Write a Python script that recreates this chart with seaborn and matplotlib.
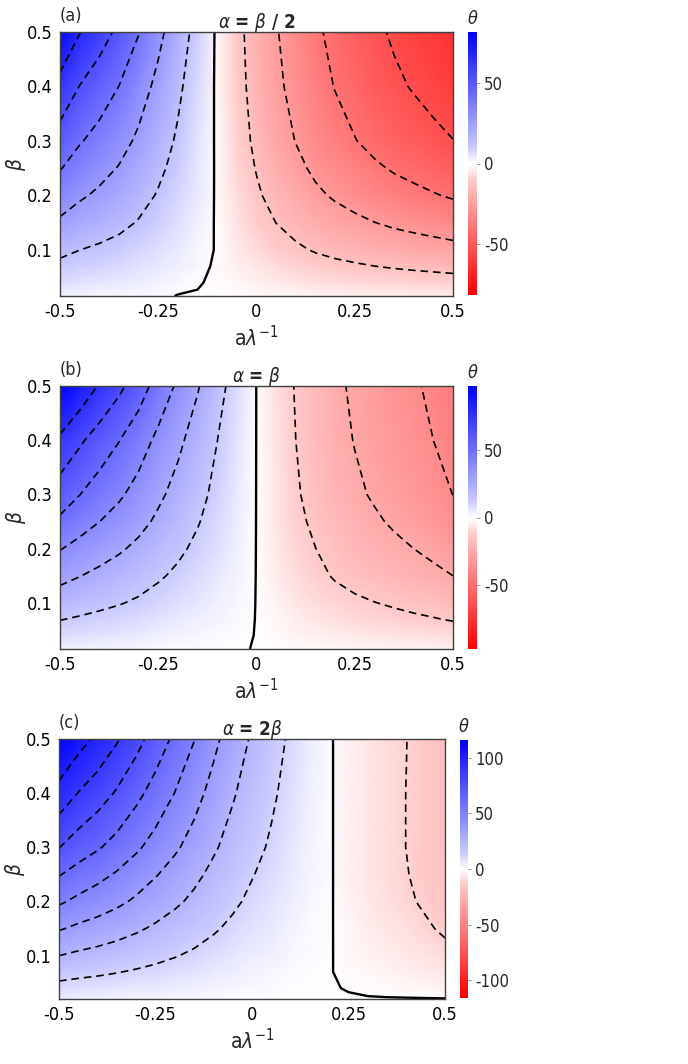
import matplotlib
matplotlib.use("Agg")
import matplotlib.pyplot as plt
import numpy as np
import seaborn as sns

# grid of the maps: a*lambda^-1 (columns) and beta (rows, bottom -> top)
A_VALUES = [-0.5, -0.45, -0.4, -0.35, -0.3, -0.25, -0.2, -0.15, -0.1, -0.05, 0.0,
            0.05, 0.1, 0.15, 0.2, 0.25, 0.3, 0.35, 0.4, 0.45, 0.5]
BETA_VALUES = [0.015, 0.04, 0.07, 0.1, 0.15, 0.2, 0.25, 0.3, 0.4, 0.5]

# theta: alpha = beta / 2
THETA_A = [
    [2.4, 2.0, 1.8, 1.5, 1.2, 0.9, -0.2, -0.4, -0.4, -0.6, -1.0, -1.4, -1.8, -2.1, -2.4, -2.6, -2.8, -3.0, -3.2, -3.4, -3.5],
    [6.6, 5.6, 4.9, 4.2, 3.4, 2.5, 1.6, 0.45, -1.0, -1.6, -2.8, -3.9, -4.9, -5.8, -6.5, -7.2, -7.8, -8.3, -8.7, -9.2, -9.6],
    [11.2, 9.5, 8.4, 7.2, 5.7, 4.2, 2.8, 1.3, -0.7, -2.7, -4.8, -6.8, -8.5, -10.0, -11.3, -12.4, -13.5, -14.4, -15.2, -15.9, -16.7],
    [16.0, 13.6, 11.9, 10.2, 8.2, 6.0, 4.0, 1.9, -0.4, -3.9, -6.9, -9.7, -12.0, -14.3, -16.1, -17.6, -19.2, -20.5, -21.6, -22.6, -23.7],
    [25.2, 21.4, 18.8, 16.1, 12.9, 9.5, 6.2, 2.9, -0.6, -5.5, -9.7, -13.6, -16.9, -20.1, -22.6, -24.8, -26.9, -28.8, -30.3, -31.8, -33.3],
    [33.6, 28.6, 25.1, 21.5, 17.2, 12.7, 8.3, 3.9, -0.75, -6.8, -12.1, -17.0, -21.1, -25.1, -28.3, -31.0, -33.7, -36.0, -37.9, -39.8, -41.7],
    [41.2, 35.0, 30.7, 26.4, 21.1, 15.6, 10.2, 4.8, -0.9, -7.9, -14.0, -19.7, -24.4, -29.0, -32.6, -35.8, -38.9, -41.6, -43.7, -45.9, -48.1],
    [48.8, 41.5, 36.4, 31.2, 25.0, 18.4, 12.1, 5.7, -1.1, -8.8, -15.6, -22.0, -27.3, -32.4, -36.5, -40.1, -43.5, -46.5, -49.0, -51.4, -53.8],
    [63.2, 53.7, 47.2, 40.4, 32.4, 23.9, 15.6, 7.3, -1.4, -9.9, -17.5, -24.6, -30.6, -36.3, -40.9, -44.8, -48.7, -52.1, -54.8, -57.5, -60.3],
    [80.0, 68.0, 59.7, 51.2, 41.0, 30.2, 19.8, 9.3, -1.5, -10.5, -18.6, -26.2, -32.5, -38.6, -43.5, -47.7, -51.8, -55.4, -58.3, -61.2, -64.1],
]

# theta: alpha = beta
THETA_B = [
    [2.9, 2.6, 2.3, 2.0, 1.7, 1.4, 1.1, 0.8, 0.5, 0.2, -0.1, -0.5, -1.0, -1.3, -1.7, -1.9, -2.2, -2.4, -2.6, -2.9, -3.1],
    [7.8, 7.0, 6.2, 5.4, 4.6, 3.8, 3.0, 2.2, 1.4, 0.6, -0.1, -1.3, -2.5, -3.4, -4.3, -5.0, -5.6, -6.2, -6.8, -7.4, -8.1],
    [13.4, 11.9, 10.5, 9.3, 7.9, 6.4, 5.1, 3.7, 2.3, 1.1, -0.1, -2.1, -4.2, -5.7, -7.3, -8.5, -9.5, -10.5, -11.5, -12.5, -13.7],
    [19.6, 17.4, 15.4, 13.6, 11.6, 9.4, 7.4, 5.4, 3.4, 1.6, -0.1, -2.9, -5.6, -7.7, -9.8, -11.4, -12.8, -14.1, -15.5, -16.8, -18.4],
    [29.6, 26.3, 23.3, 20.5, 17.5, 14.2, 11.2, 8.2, 5.1, 2.4, -0.1, -4.1, -7.9, -10.8, -13.8, -16.1, -18.1, -20.0, -21.9, -23.8, -26.0],
    [39.6, 35.1, 31.1, 27.5, 23.4, 19.0, 14.9, 10.9, 6.9, 3.2, -0.1, -4.8, -9.5, -12.9, -16.4, -19.2, -21.5, -23.8, -26.0, -28.3, -31.0],
    [49.8, 44.2, 39.1, 34.5, 29.5, 23.9, 18.8, 13.7, 8.6, 4.1, -0.1, -5.5, -10.8, -14.8, -18.8, -22.0, -24.6, -27.3, -29.8, -32.4, -35.5],
    [58.8, 52.2, 46.2, 40.8, 34.8, 28.2, 22.2, 16.2, 10.2, 4.8, -0.1, -6.1, -11.9, -16.3, -20.7, -24.2, -27.1, -30.0, -32.8, -35.7, -39.1],
    [75.5, 67.0, 59.3, 52.4, 44.7, 36.2, 28.5, 20.8, 13.1, 6.2, -0.1, -6.7, -13.0, -17.8, -22.6, -26.4, -29.6, -32.8, -35.8, -39.0, -42.7],
    [98.0, 87.0, 77.0, 68.0, 58.0, 47.0, 37.0, 27.0, 17.0, 8.0, -0.1, -7.0, -13.7, -18.7, -23.8, -27.8, -31.2, -34.5, -37.7, -41.0, -44.9],
]

# theta: alpha = 2 beta
THETA_C = [
    [3.5, 3.2, 2.9, 2.7, 2.4, 2.1, 1.8, 1.5, 1.2, 0.9, 0.7, 0.5, 0.4, 0.4, 0.5, 0.6, 0.7, 0.8, 0.9, 1.0, 1.1],
    [9.2, 8.4, 7.8, 7.1, 6.3, 5.6, 4.8, 4.0, 3.2, 2.5, 1.9, 1.4, 0.9, 0.5, 0.38, -0.25, -1.0, -1.6, -2.1, -2.7, -3.4],
    [16.7, 15.2, 14.1, 12.9, 11.5, 10.1, 8.7, 7.3, 5.9, 4.6, 3.4, 2.5, 1.6, 0.8, 0.33, -1.3, -2.4, -3.4, -4.4, -5.5, -6.8],
    [25.0, 22.8, 21.1, 19.3, 17.2, 15.1, 13.0, 10.9, 8.8, 6.9, 5.1, 3.7, 2.3, 1.2, 0.48, -1.9, -3.5, -4.9, -6.3, -7.8, -9.7],
    [38.5, 35.2, 32.6, 29.7, 26.6, 23.3, 20.1, 16.9, 13.6, 10.6, 7.9, 5.7, 3.6, 1.8, 0.68, -2.7, -5.0, -7.1, -9.0, -11.2, -14.0],
    [51.8, 47.3, 43.8, 40.0, 35.7, 31.3, 27.0, 22.7, 18.2, 14.2, 10.6, 7.7, 4.9, 2.4, 0.85, -3.4, -6.1, -8.7, -11.1, -13.9, -17.3],
    [63.3, 57.8, 53.5, 48.8, 43.6, 38.3, 33.0, 27.7, 22.3, 17.4, 13.0, 9.4, 5.9, 2.9, 0.93, -3.7, -6.7, -9.5, -12.1, -15.1, -18.8],
    [75.3, 68.8, 63.7, 58.2, 51.9, 45.6, 39.3, 33.0, 26.5, 20.7, 15.5, 11.2, 7.1, 3.5, 0.95, -3.8, -7.0, -9.9, -12.6, -15.8, -19.6],
    [95.5, 87.2, 80.8, 73.7, 65.8, 57.8, 49.8, 41.8, 33.6, 26.2, 19.6, 14.2, 9.0, 4.4, 0.95, -3.8, -7.0, -9.9, -12.6, -15.8, -19.6],
    [115.0, 105.0, 97.3, 88.8, 79.3, 69.6, 60.0, 50.4, 40.5, 31.6, 23.6, 17.1, 10.8, 5.3, 0.95, -3.8, -6.9, -9.8, -12.4, -15.6, -19.4],
]

# dashed contour levels and colour limits of each panel
LEVELS_A = [-54, -40.5, -27, -13.5, 13.5, 27, 40.5, 54, 67.5]
LEVELS_B = [-39, -26, -13, 13, 26, 39, 52, 65, 78]
LEVELS_C = [-12.5, 12.5, 25, 37.5, 50, 62.5, 75, 87.5, 100]
VMAX = [82, 98, 116]
CBAR_TICKS = [[-50, 0, 50], [-50, 0, 50], [-100, -50, 0, 50, 100]]
PANEL_LABELS = ["(a)", "(b)", "(c)"]
TITLES = [r"$\alpha$ = $\beta$ / 2", r"$\alpha$ = $\beta$", r"$\alpha$ = 2$\beta$"]
Y_BOTTOM = [0.015, 0.015, 0.02]

X_TICKS = [-0.5, -0.25, 0, 0.25, 0.5]
X_TICK_LABELS = ["-0.5", "-0.25", "0", "0.25", "0.5"]
Y_TICKS = [0.1, 0.2, 0.3, 0.4, 0.5]
Y_TICK_LABELS = ["0.1", "0.2", "0.3", "0.4", "0.5"]

sns.set_theme(style="white")
plt.rcParams["font.family"] = ["DejaVu Sans"]
plt.rcParams["font.stretch"] = "condensed"
plt.rcParams["mathtext.fontset"] = "dejavusans"
plt.rcParams["axes.unicode_minus"] = False
plt.rcParams["lines.scale_dashes"] = False
plt.rcParams["lines.dashed_pattern"] = [5.5, 3.5]

# red - white - blue map, whitening quickly near zero
cmap = sns.blend_palette(
    ["#ff0000", "#ff1c1c", "#ff3a3a", "#ff5656", "#ff7272", "#ff9090", "#ffacac", "#ffcaca", "#ffffff",
     "#cacaff", "#acacff", "#9090ff", "#7272ff", "#5656ff", "#3a3aff", "#1c1cff", "#0000ff"],
    n_colors=256, as_cmap=True)

fig = plt.figure(figsize=(6.88, 10.64), dpi=100)
W, H = 688.0, 1064.0
axes_px = [(60, 453, 32, 296), (60, 453, 386, 649), (59, 445, 739, 999)]
cbar_px = [(468, 477, 32, 295), (468, 477, 386, 649), (460, 468, 740, 998)]

panels = [THETA_A, THETA_B, THETA_C]
levels_all = [LEVELS_A, LEVELS_B, LEVELS_C]

for i in range(3):
    x0, x1, y0, y1 = axes_px[i]
    ax = fig.add_axes([x0 / W, 1 - y1 / H, (x1 - x0) / W, (y1 - y0) / H])
    c0, c1, cy0, cy1 = cbar_px[i]
    cax = fig.add_axes([c0 / W, 1 - cy1 / H, (c1 - c0) / W, (cy1 - cy0) / H])

    z = np.array(panels[i])
    mesh = ax.pcolormesh(A_VALUES, BETA_VALUES, z, shading="gouraud", cmap=cmap,
                         vmin=-VMAX[i], vmax=VMAX[i], rasterized=True)
    ax.contour(A_VALUES, BETA_VALUES, z, levels=levels_all[i], colors="black",
               linewidths=1.2, linestyles="dashed")
    ax.contour(A_VALUES, BETA_VALUES, z, levels=[0], colors="black", linewidths=1.7)

    ax.set_xlim(-0.5, 0.5)
    ax.set_ylim(Y_BOTTOM[i], 0.5)
    ax.set_xticks(X_TICKS, labels=X_TICK_LABELS)
    ax.set_yticks(Y_TICKS, labels=Y_TICK_LABELS)
    ax.tick_params(direction="in", length=3, width=0.8, color="#404040", labelsize=13, pad=5,
                   labelcolor="black")
    for sp in ax.spines.values():
        sp.set_color("#404040")
        sp.set_linewidth(1.0)
    ax.set_xlabel(r"a$\lambda^{-1}$", fontsize=15, labelpad=3)
    ax.set_ylabel(r"$\beta$", fontsize=15)
    ax.yaxis.set_label_coords(-32.0 / (x1 - x0), 0.5)
    ax.set_title(TITLES[i], fontsize=13.5, fontweight="bold", pad=3)
    ax.text(0.0, 1.025, PANEL_LABELS[i], transform=ax.transAxes, ha="left", va="bottom", fontsize=13)

    cb = fig.colorbar(mesh, cax=cax, ticks=CBAR_TICKS[i])
    cb.outline.set_visible(False)
    cb.ax.tick_params(labelsize=12, length=2, width=0.6, color="#808080", pad=3)
    cb.ax.set_yticklabels([str(t) for t in CBAR_TICKS[i]])
    cb.ax.set_title(r"$\theta$", fontsize=13, pad=6)

fig.savefig("out.png", dpi=100)
